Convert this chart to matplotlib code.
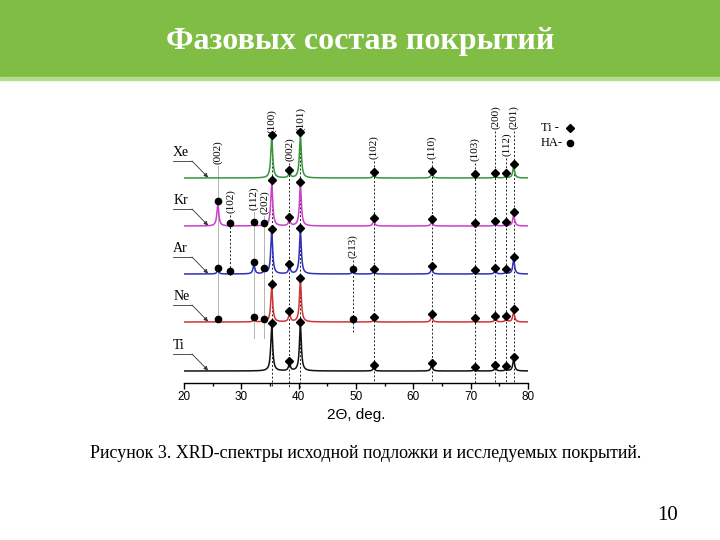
import numpy as np
import matplotlib
matplotlib.use("Agg")
import matplotlib.pyplot as plt
from matplotlib.patches import Rectangle

# peak positions, 2theta (deg)
ti_pos = [35.3, 38.4, 40.3, 53.1, 63.2, 70.7, 74.3, 76.2, 77.5]
ha_pos = [25.9, 28.1, 32.2, 34.0, 49.4]

samples = ["Ti", "Ne", "Ar", "Kr", "Xe"]
colors = ["#111111", "#d03434", "#3030b8", "#cc3fcc", "#35963a"]
offsets = [12, 61, 109, 157, 205]

# peak heights (arb. units) for each sample
ti_heights = {
    "Ti": [45, 7, 46, 3, 5, 1.5, 3, 2, 11],
    "Ne": [35, 8, 41, 2, 5, 1, 3, 3, 10],
    "Ar": [42, 7, 43, 2, 5, 1, 3, 2, 14],
    "Kr": [43, 6, 41, 5, 4, 0.5, 2, 1.5, 11],
    "Xe": [40, 5, 43, 3, 4, 1, 2, 2, 11],
}
ha_heights = {
    "Ti": [0, 0, 0, 0, 0],
    "Ne": [0.5, 0, 2, 0.5, 0.3],
    "Ar": [3.5, 0.5, 9, 3, 2],
    "Kr": [22, 0.5, 1, 0.5, 0],
    "Xe": [0, 0, 0, 0, 0],
}
ha_marked = {
    "Ti": [0, 0, 0, 0, 0],
    "Ne": [1, 0, 1, 1, 1],
    "Ar": [1, 1, 1, 1, 1],
    "Kr": [1, 1, 1, 1, 0],
    "Xe": [0, 0, 0, 0, 0],
}

# Miller index labels: position, text, text bottom, line end (data y), gray?
hkl_pos = [25.9, 35.3, 38.4, 40.3, 53.1, 63.2, 70.7, 74.3, 76.2, 77.5,
           28.1, 32.2, 34.0, 49.4]
hkl_text = ["(002)", "(100)", "(002)", "(101)", "(102)", "(110)", "(103)",
            "(200)", "(112)", "(201)", "(102)", "(112)", "(202)", "(213)"]
hkl_bottom = [219, 250, 222, 252, 224, 224, 222, 254, 227, 254,
              170, 173, 169, 125]
hkl_end = [61, -4, -4, -4, 0, 0, 0, 0, 0, 0, 107, 45, 45, 49]
hkl_gray = [1, 0, 0, 0, 0, 0, 0, 0, 0, 0, 0, 1, 1, 0]


def profile(x, pos, hts, g=0.2):
    y = np.zeros_like(x)
    for p, h in zip(pos, hts):
        y += h / (1 + ((x - p) / g) ** 2)
    return y


fig = plt.figure(figsize=(7.2, 5.4), dpi=100)
fig.patches.append(Rectangle((0, 1 - 77 / 540), 1, 77 / 540, transform=fig.transFigure,
                             color="#80bd45", zorder=0))
fig.patches.append(Rectangle((0, 1 - 80 / 540), 1, 3 / 540, transform=fig.transFigure,
                             color="#b5dc8c", zorder=0))
fig.text(0.5, 1 - 42 / 540, "Фазовых состав покрытий", color="white", ha="center",
         va="center", fontsize=23, fontweight="bold", family="Liberation Serif")

ax = fig.add_axes([184 / 720, 1 - 383 / 540, 344 / 720, 283 / 540])
x = np.linspace(20, 80, 4001)

for xp, t, yb, ye, gr in zip(hkl_pos, hkl_text, hkl_bottom, hkl_end, hkl_gray):
    if gr:
        ax.plot([xp, xp], [yb - 2, ye], color="#b4b4b4", lw=0.7, zorder=1, clip_on=False)
    else:
        ax.plot([xp, xp], [yb - 2, ye], color="#222222", lw=0.7, ls=(0, (2, 2)),
                zorder=1, clip_on=False)
    ax.text(xp, yb, t, rotation=90, ha="center", va="bottom", fontsize=8,
            family="Liberation Serif", clip_on=False)

for s, c, off in zip(samples, colors, offsets):
    y = off + profile(x, ti_pos, ti_heights[s]) + profile(x, ha_pos, ha_heights[s])
    ax.plot(x, y, color=c, lw=1.1, zorder=2)
    ax.plot(ti_pos, [off + h + 3 for h in ti_heights[s]], "D", color="black",
            ms=4, zorder=3, clip_on=False)
    hx = [p for p, m in zip(ha_pos, ha_marked[s]) if m]
    hy = [off + h + 3 for h, m in zip(ha_heights[s], ha_marked[s]) if m]
    ax.plot(hx, hy, "o", color="black", ms=4.5, zorder=3, clip_on=False)
    # sample label with leader
    ax.text(18.1, off + 19, s, fontsize=10, family="Liberation Serif",
            ha="left", va="bottom", clip_on=False)
    ax.plot([18.1, 21.4], [off + 17, off + 17], color="#333333", lw=0.6, clip_on=False)
    ax.annotate("", xy=(24.2, off + 0.5), xytext=(21.4, off + 17),
                arrowprops=dict(arrowstyle="-|>", color="#333333", lw=0.6,
                                mutation_scale=6, shrinkA=0, shrinkB=0),
                annotation_clip=False)

# legend
ax.text(82.2, 255, "Ti -", fontsize=9, family="Liberation Serif", ha="left", va="center",
        clip_on=False)
ax.text(82.2, 240, "HA-", fontsize=9, family="Liberation Serif", ha="left", va="center",
        clip_on=False)
ax.plot([87.4], [255], "D", color="black", ms=4, clip_on=False)
ax.plot([87.4], [240], "o", color="black", ms=4.5, clip_on=False)

ax.set_xlim(20, 80)
ax.set_ylim(0, 283)
for sp in ["left", "right", "top"]:
    ax.spines[sp].set_visible(False)
ax.spines["bottom"].set_linewidth(1.0)
ax.set_yticks([])
ax.set_xticks(np.arange(20, 81, 10))
ax.set_xticks(np.arange(25, 80, 10), minor=True)
ax.tick_params(axis="x", which="major", length=4, width=1.0, labelsize=8.5, pad=2)
ax.tick_params(axis="x", which="minor", length=2.5, width=1.0)
for lb in ax.get_xticklabels():
    lb.set_family("Liberation Sans")
ax.set_xlabel("2Θ, deg.", fontsize=11, family="Liberation Sans", labelpad=3)
ax.patch.set_alpha(0)

fig.text(366 / 720, 1 - 454 / 540, "Рисунок 3. XRD-спектры исходной подложки и исследуемых покрытий.",
         ha="center", va="center", fontsize=13, family="Liberation Serif")
fig.text(668 / 720, 1 - 515 / 540, "10", ha="center", va="center", fontsize=15,
         family="Liberation Serif")

fig.savefig("out.png", dpi=100)
